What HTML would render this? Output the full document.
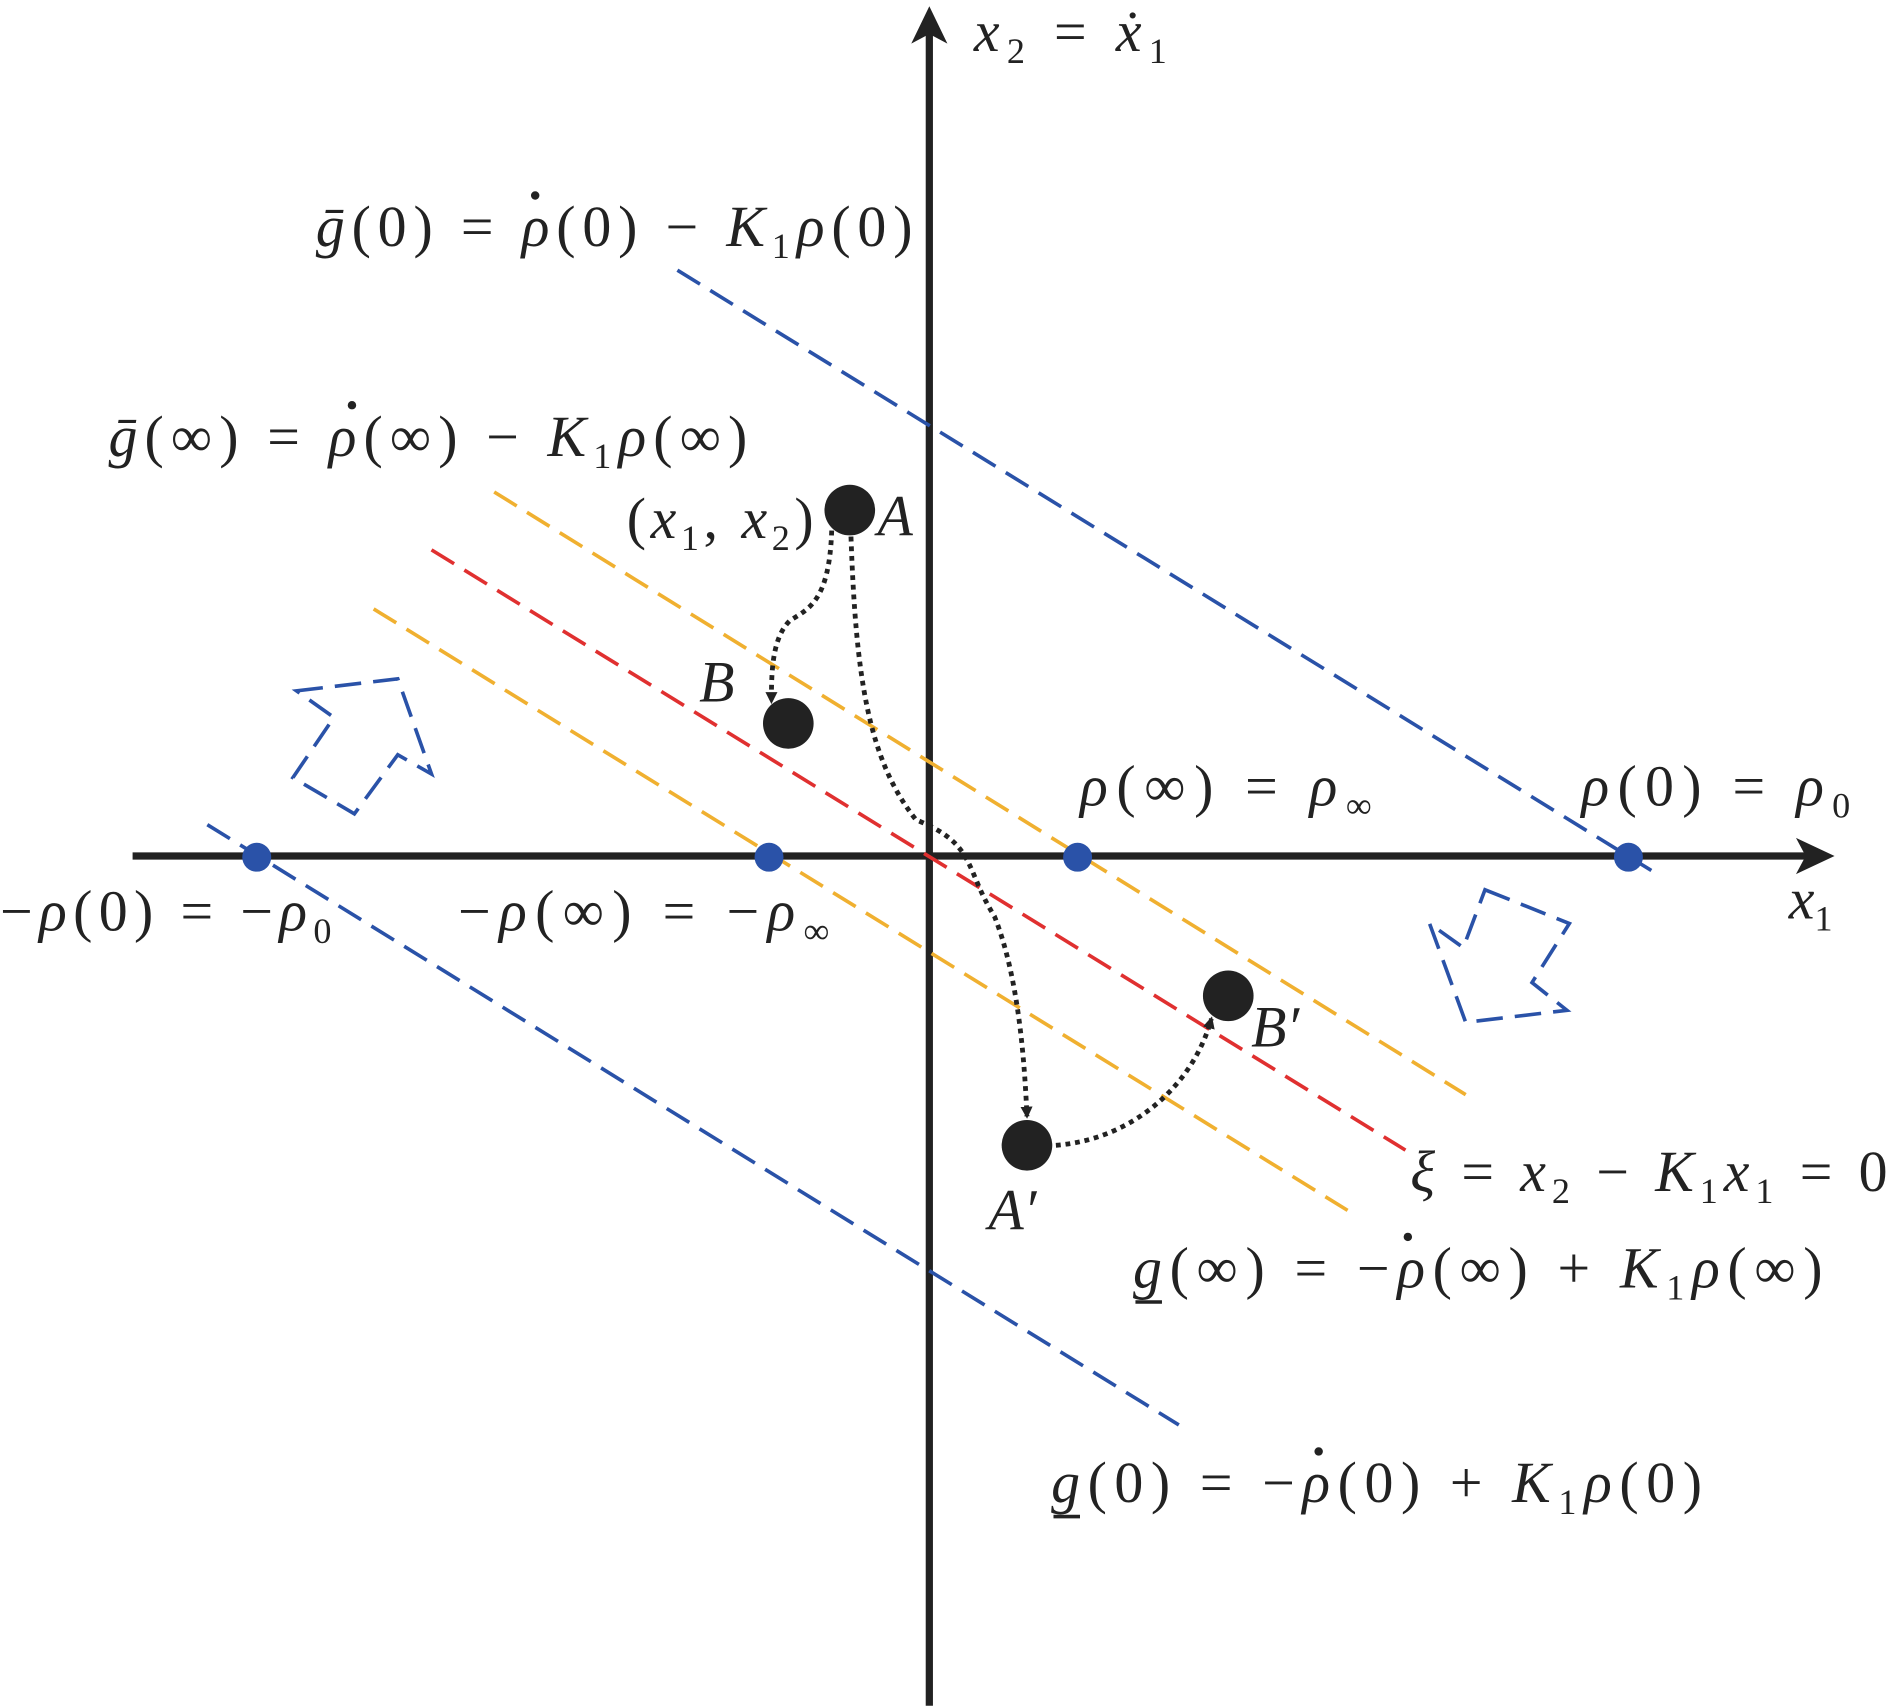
<!DOCTYPE html>
<html><head><style>
html,body{margin:0;padding:0;background:#fff;}
svg{display:block;}
text{font-family:"Liberation Serif",serif;font-size:48px;fill:#222;}
.i{font-style:italic;}
.s{font-size:30px;}
</style></head><body>
<svg width="1890" height="1706" viewBox="0 0 1568 1415" xmlns="http://www.w3.org/2000/svg">
<defs>
<marker id="ah" markerWidth="10" markerHeight="10" refX="8" refY="5" orient="auto" markerUnits="userSpaceOnUse">
<path d="M0,0 L10,5 L0,10 z" fill="#222"/></marker>
</defs>
<line x1="771" y1="1415" x2="771" y2="25" stroke="#222" stroke-width="6"/>
<path d="M771,5 L756,36 L771,28 L786,36 z" fill="#222"/>
<line x1="110" y1="710" x2="1500" y2="710" stroke="#222" stroke-width="6"/>
<path d="M1522,710 L1490,695 L1498,710 L1490,725 z" fill="#222"/>
<g stroke-width="3" stroke-dasharray="22,10" fill="none">
<line x1="562" y1="224" x2="1370" y2="722" stroke="#2a52a8"/>
<line x1="172" y1="684" x2="978" y2="1182" stroke="#2a52a8"/>
<line x1="410" y1="408" x2="1216" y2="908" stroke="#f0b030"/>
<line x1="358" y1="456" x2="1166" y2="954" stroke="#e03030"/>
<line x1="310" y1="505" x2="1118" y2="1004" stroke="#f0b030"/>
<polygon points="246,573 330,563 358,642 330,626 294,675 243,645 277,595" stroke="#2a52a8"/>
<polygon points="1232,738 1302,766 1271,815 1300,838 1216,848 1186,766 1214,786" stroke="#2a52a8"/>
</g>
<g fill="#2a52a8"><circle cx="213" cy="711" r="12"/><circle cx="638" cy="711" r="12"/><circle cx="894" cy="711" r="12"/><circle cx="1351" cy="711" r="12"/></g>
<g stroke="#222" stroke-width="4" stroke-dasharray="4,4" fill="none">
<path d="M690,440 C688,500 670,505 655,515 C640,530 640,560 640,582" marker-end="url(#ah)"/>
<path d="M706,445 C710,560 720,630 760,680 C810,700 800,720 825,760 C845,810 850,880 852,926" marker-end="url(#ah)"/>
<path d="M876,950 C940,945 990,900 1005,845" marker-end="url(#ah)"/>
</g>
<g fill="#222"><circle cx="705" cy="423" r="21"/><circle cx="654" cy="600" r="21"/><circle cx="1019" cy="826" r="21"/><circle cx="852" cy="950" r="21"/></g>
<text x="808" y="42" textLength="160" lengthAdjust="spacing"><tspan class="i">x</tspan><tspan class="s" dy="10">2</tspan><tspan dy="-10"> = </tspan><tspan class="i">ẋ</tspan><tspan class="s" dy="10">1</tspan></text>
<text x="262" y="204" textLength="495" lengthAdjust="spacing"><tspan class="i">ḡ</tspan>(0) = <tspan class="i">ρ</tspan>(0) − <tspan class="i">K</tspan><tspan class="s" dy="10">1</tspan><tspan class="i" dy="-10">ρ</tspan>(0)</text>
<text x="90" y="378" textLength="530" lengthAdjust="spacing"><tspan class="i">ḡ</tspan>(∞) = <tspan class="i">ρ</tspan>(∞) − <tspan class="i">K</tspan><tspan class="s" dy="10">1</tspan><tspan class="i" dy="-10">ρ</tspan>(∞)</text>
<text x="520" y="446" textLength="155" lengthAdjust="spacing">(<tspan class="i">x</tspan><tspan class="s" dy="10">1</tspan><tspan dy="-10">, </tspan><tspan class="i">x</tspan><tspan class="s" dy="10">2</tspan><tspan dy="-10">)</tspan></text>
<text x="728" y="444" class="i">A</text>
<text x="580" y="582" class="i">B</text>
<text x="1038" y="868" class="i">B′</text>
<text x="820" y="1020" class="i">A′</text>
<text x="896" y="668" textLength="242" lengthAdjust="spacing"><tspan class="i">ρ</tspan>(∞) = <tspan class="i">ρ</tspan><tspan class="s" dy="10">∞</tspan></text>
<text x="1312" y="668" textLength="223" lengthAdjust="spacing"><tspan class="i">ρ</tspan>(0) = <tspan class="i">ρ</tspan><tspan class="s" dy="10">0</tspan></text>
<text x="1484" y="762" class="i">x<tspan class="s" dy="10" style="font-style:normal">1</tspan></text>
<text x="0" y="772" textLength="275" lengthAdjust="spacing">−<tspan class="i">ρ</tspan>(0) = −<tspan class="i">ρ</tspan><tspan class="s" dy="10">0</tspan></text>
<text x="380" y="772" textLength="308" lengthAdjust="spacing">−<tspan class="i">ρ</tspan>(∞) = −<tspan class="i">ρ</tspan><tspan class="s" dy="10">∞</tspan></text>
<text x="1170" y="988" textLength="396" lengthAdjust="spacing"><tspan class="i">ξ</tspan> = <tspan class="i">x</tspan><tspan class="s" dy="10">2</tspan><tspan dy="-10"> − </tspan><tspan class="i">K</tspan><tspan class="s" dy="10">1</tspan><tspan class="i" dy="-10">x</tspan><tspan class="s" dy="10">1</tspan><tspan dy="-10"> = 0</tspan></text>
<text x="940" y="1068" textLength="572" lengthAdjust="spacing"><tspan class="i">g</tspan>(∞) = −<tspan class="i">ρ</tspan>(∞) + <tspan class="i">K</tspan><tspan class="s" dy="10">1</tspan><tspan class="i" dy="-10">ρ</tspan>(∞)</text>
<text x="872" y="1246" textLength="540" lengthAdjust="spacing"><tspan class="i">g</tspan>(0) = −<tspan class="i">ρ</tspan>(0) + <tspan class="i">K</tspan><tspan class="s" dy="10">1</tspan><tspan class="i" dy="-10">ρ</tspan>(0)</text>
<g stroke="#222" stroke-width="3">
<line x1="942" y1="1080" x2="964" y2="1080"/>
<line x1="874" y1="1258" x2="896" y2="1258"/>
</g>
<g fill="#222">
<circle cx="444" cy="162" r="3.5"/><circle cx="292" cy="336" r="3.5"/>
<circle cx="1168" cy="1026" r="3.5"/><circle cx="1094" cy="1204" r="3.5"/>
</g>
</svg>
</body></html>
